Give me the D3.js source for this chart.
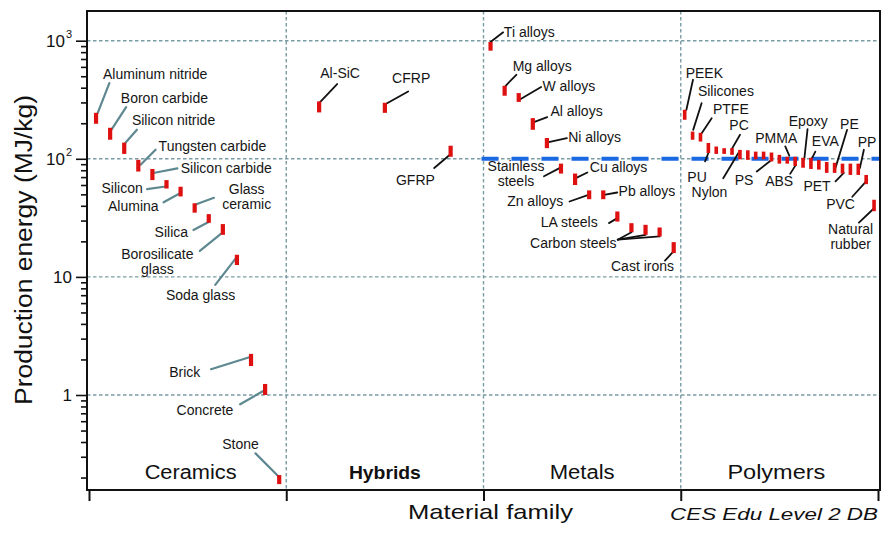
<!DOCTYPE html>
<html>
<head>
<meta charset="utf-8">
<script src="https://cdn.jsdelivr.net/npm/d3@7/dist/d3.min.js"></script>
<style>
  html, body { margin: 0; padding: 0; background: #fff; }
  svg { display: block; font-family: "Liberation Sans", Arial, Helvetica, sans-serif; }
</style>
</head>
<body>
<svg id="chart" width="886" height="536"></svg>
<script>
// Production energy of engineering materials, grouped by family.
// Each material is a range [low, high] in MJ/kg.
const families = ["Ceramics", "Hybrids", "Metals", "Polymers"];

const ceramicNames = ["Aluminum nitride", "Boron carbide", "Silicon nitride", "Tungsten carbide",
  "Silicon carbide", "Silicon", "Alumina", "Glass ceramic", "Silica", "Borosilicate glass",
  "Soda glass", "Brick", "Concrete", "Stone"];
const ceramicLow  = [198, 145, 110, 78, 66, 56, 48, 35, 28.7, 22.7, 12.6, 1.76, 1.0, 0.176];
const ceramicHigh = [245, 183, 137, 98, 82, 66, 58, 42, 34, 28, 15.4, 2.23, 1.24, 0.21];

const hybridNames = ["Al-SiC", "CFRP", "GFRP"];
const hybridLow  = [247, 245, 104];
const hybridHigh = [306, 298, 129];

const metalNames = ["Ti alloys", "Mg alloys", "W alloys", "Al alloys", "Ni alloys", "Stainless steels",
  "Cu alloys", "Zn alloys", "Pb alloys", "LA steels", "Low carbon steel", "Medium carbon steel",
  "High carbon steel", "Cast irons"];
const metalLow  = [823, 342, 303, 176, 123, 75, 60, 45.5, 45.5, 29.4, 23.9, 22.7, 22, 15.9];
const metalHigh = [975, 415, 360, 221, 150, 91, 75, 54, 54, 35.8, 28.5, 27.6, 26.2, 19.7];

// unnamed entries are polymers shown without a label
const polymerNames = ["PEEK", "Silicones", "PTFE", "PU", "", "", "PC", "Nylon", "", "", "", "PS", "",
  "PMMA", "ABS", "Epoxy", "EVA", "", "", "PE", "PET", "", "PP", "PVC", "Natural rubber"];
const polymerLow  = [214, 145, 140, 112, 110, 110, 108, 99, 98, 99, 99, 95, 91, 91, 87, 84, 82, 81, 76, 76, 75, 73, 73, 61, 36];
const polymerHigh = [260, 170, 166, 136, 127, 123, 123, 119, 118, 115, 115, 113, 108, 104, 104, 102, 102, 98, 94, 92.5, 91, 91, 91, 73, 45];

const yTickValues = [1, 10, 100, 1000];
const yTickBase = ["1", "10", "10", "10"];
const yTickExp  = ["", "", "2", "3"];
const referenceLevel = 100;   // MJ/kg, dashed blue reference line across metals and polymers

const familyData = {
  Ceramics: { names: ceramicNames, low: ceramicLow, high: ceramicHigh },
  Hybrids:  { names: hybridNames,  low: hybridLow,  high: hybridHigh },
  Metals:   { names: metalNames,   low: metalLow,   high: metalHigh },
  Polymers: { names: polymerNames, low: polymerLow, high: polymerHigh }
};

// Label placement: text offset and leader-line offsets (px) from the bar centre.
const labelLayout = {
  "Aluminum nitride": { lines: ["Aluminum nitride"], anchor: "start", tx: 7, ty: [-39.5], from: [13.3, -35.2], to: [1.6, -5.2] },
  "Boron carbide":    { lines: ["Boron carbide"], anchor: "start", tx: 10.7, ty: [-31], from: [16, -26.7], to: [1.7, -4.7] },
  "Silicon nitride":  { lines: ["Silicon nitride"], anchor: "start", tx: 7.7, ty: [-23.5], from: [12.7, -18.5], to: [1, -5.2] },
  "Tungsten carbide": { lines: ["Tungsten carbide"], anchor: "start", tx: 20.3, ty: [-14.3], from: [17.3, -16], to: [2.3, -1] },
  "Silicon carbide":  { lines: ["Silicon carbide"], anchor: "start", tx: 28.3, ty: [-1.5], from: [25, -6.2], to: [2.3, -1.8] },
  "Silicon":          { lines: ["Silicon"], anchor: "end", tx: -23.7, ty: [8.5], from: [-19.4, 4.8], to: [-1, 2.2] },
  "Alumina":          { lines: ["Alumina"], anchor: "end", tx: -22, ty: [19.7], from: [-17, 10.7], to: [-1, 2] },
  "Glass ceramic":    { lines: ["Glass", "ceramic"], anchor: "middle", tx: 52, ty: [-13.5, 1.5], from: [19.3, -10.2], to: [1, -3.5] },
  "Silica":           { lines: ["Silica"], anchor: "end", tx: -20.7, ty: [18.2], from: [-15.3, 11.5], to: [0.3, 3.2] },
  "Borosilicate glass": { lines: ["Borosilicate", "glass"], anchor: "middle", tx: -65.5, ty: [29.5, 44.5], from: [-23, 21.5], to: [-2, 4.5] },
  "Soda glass":       { lines: ["Soda glass"], anchor: "middle", tx: -36.4, ty: [40], from: [-21.7, 25], to: [-1, -1.7] },
  "Brick":            { lines: ["Brick"], anchor: "end", tx: -50.7, ty: [16.7], from: [-40, 9.3], to: [-1.7, -2.7] },
  "Concrete":         { lines: ["Concrete"], anchor: "end", tx: -31.7, ty: [25.5], from: [-25, 14.8], to: [-1, 1] },
  "Stone":            { lines: ["Stone"], anchor: "middle", tx: -38.7, ty: [-30.2], from: [-23.7, -26.2], to: [-0.4, -2.8] },

  "Al-SiC": { lines: ["Al-SiC"], anchor: "middle", tx: 21, ty: [-28.9], from: [18, -22.9], to: [0, -3.9] },
  "CFRP":   { lines: ["CFRP"], anchor: "middle", tx: 26.3, ty: [-25], from: [23.3, -16.3], to: [1.3, -4] },
  "GFRP":   { lines: ["GFRP"], anchor: "middle", tx: -35.2, ty: [33.5], from: [-16.4, 16.8], to: [-0.7, 3.5] },

  "Ti alloys":  { lines: ["Ti alloys"], anchor: "start", tx: 13.3, ty: [-9.7], from: [12.6, -14], to: [0, -4.4] },
  "Mg alloys":  { lines: ["Mg alloys"], anchor: "start", tx: 8, ty: [-20], from: [11.7, -16], to: [1, -5] },
  "W alloys":   { lines: ["W alloys"], anchor: "start", tx: 23.7, ty: [-6.8], from: [22.4, -10.5], to: [0.7, 2.2] },
  "Al alloys":  { lines: ["Al alloys"], anchor: "start", tx: 17.7, ty: [-8.2], from: [14.4, -6.9], to: [0.4, -1.5] },
  "Ni alloys":  { lines: ["Ni alloys"], anchor: "start", tx: 21.3, ty: [-0.8], from: [20, -5], to: [0.6, -0.6] },
  "Stainless steels": { lines: ["Stainless", "steels"], anchor: "middle", tx: -45, ty: [2, 17], from: [-17, 7.7], to: [-1, -0.7] },
  "Cu alloys":  { lines: ["Cu alloys"], anchor: "start", tx: 14.7, ty: [-7], from: [12.3, -6.8], to: [0.7, -1.2] },
  "Zn alloys":  { lines: ["Zn alloys"], anchor: "end", tx: -26, ty: [11.5], from: [-19.7, 6.7], to: [-0.7, 0] },
  "Pb alloys":  { lines: ["Pb alloys"], anchor: "start", tx: 15.3, ty: [1.5], from: [14, -2.3], to: [0.6, 0] },
  "LA steels":  { lines: ["LA steels"], anchor: "end", tx: -19.7, ty: [10.8], from: [-8.4, 6.6], to: [0, 1.6] },
  "Low carbon steel": { lines: ["Carbon steels"], anchor: "end", tx: -15, ty: [20.8], from: [-13.7, 12],
                        to: [0, 4.6], joins: ["Medium carbon steel", "High carbon steel"] },
  "Cast irons": { lines: ["Cast irons"], anchor: "middle", tx: -31.2, ty: [23.8], from: [-8.7, 13], to: [0, 3.6] },

  "PEEK":      { lines: ["PEEK"], anchor: "start", tx: 1, ty: [-37], from: [8.3, -35], to: [1.7, -5] },
  "Silicones": { lines: ["Silicones"], anchor: "start", tx: 5.3, ty: [-39.3], from: [9, -32.5], to: [0.6, -5.8] },
  "PTFE":      { lines: ["PTFE"], anchor: "start", tx: 12.5, ty: [-23.3], from: [11.2, -19], to: [1.2, -4] },
  "PU":        { lines: ["PU"], anchor: "middle", tx: -11.3, ty: [34.2], from: [-3.3, 13.4], to: [0, 5] },
  "PC":        { lines: ["PC"], anchor: "middle", tx: 7, ty: [-21.7], from: [8, -16.7], to: [-0.3, -2.4] },
  "Nylon":     { lines: ["Nylon"], anchor: "middle", tx: -30.5, ty: [42.8], from: [-16.7, 23.6], to: [-1.7, -1.4] },
  "PS":        { lines: ["PS"], anchor: "middle", tx: -27.4, ty: [27.8], from: [-14.7, 14.5], to: [0.3, 2.8] },
  "PMMA":      { lines: ["PMMA"], anchor: "middle", tx: -11, ty: [-17], from: [-2, -13.8], to: [2, -4.5] },
  "ABS":       { lines: ["ABS"], anchor: "middle", tx: -16, ty: [25], from: [-5, 12.5], to: [0.7, 3.5] },
  "Epoxy":     { lines: ["Epoxy"], anchor: "middle", tx: 5.2, ty: [-37], from: [4.5, -33.7], to: [1.2, -3] },
  "EVA":       { lines: ["EVA"], anchor: "middle", tx: 14.4, ty: [-17.5], from: [4.4, -11.8], to: [1.1, -5.2] },
  "PE":        { lines: ["PE"], anchor: "middle", tx: 14.8, ty: [-39], from: [12.5, -38], to: [0.8, 0.3] },
  "PET":       { lines: ["PET"], anchor: "middle", tx: -25.5, ty: [22.5], from: [-7, 12.7], to: [1.3, 4.3] },
  "PP":        { lines: ["PP"], anchor: "middle", tx: 8.8, ty: [-22.5], from: [5.6, -19.5], to: [1.6, -1.2] },
  "PVC":       { lines: ["PVC"], anchor: "middle", tx: -25.6, ty: [29.5], from: [-13.9, 17.2], to: [1.1, 0.5] },
  "Natural rubber": { lines: ["Natural", "rubber"], anchor: "middle", tx: -23.4, ty: [29, 44], from: [-15.1, 17.2], to: [0, 2.8] }
};

// ---- layout ----
const frame = { left: 87, right: 880, top: 11, bottom: 490 };
const svg = d3.select("#chart");

const y = d3.scaleLog().domain([0.1569, 1784]).range([frame.bottom, frame.top]);
const xFamily = d3.scaleBand().domain(families).range([89, 878]).padding(0);

// flatten rows with their x positions
const rows = [];
families.forEach(f => {
  const d = familyData[f];
  const idx = d.names.map((_, i) => i);
  const xp = d3.scalePoint().domain(idx)
    .range([xFamily(f), xFamily(f) + xFamily.bandwidth()]).padding(0.5);
  idx.forEach(i => rows.push({
    family: f, name: d.names[i], low: d.low[i], high: d.high[i], x: xp(i)
  }));
});
const byName = new Map(rows.filter(r => r.name).map(r => [r.name, r]));

const gridColor = "#7a9ca4";

// horizontal grid at decades
svg.append("g").selectAll("line").data(yTickValues).join("line")
  .attr("x1", frame.left).attr("x2", frame.right)
  .attr("y1", d => y(d)).attr("y2", d => y(d))
  .attr("stroke", gridColor).attr("stroke-width", 1.4).attr("stroke-dasharray", "3.5,2.5");

// vertical grid at family boundaries
svg.append("g").selectAll("line").data(families.slice(1)).join("line")
  .attr("x1", d => xFamily(d)).attr("x2", d => xFamily(d))
  .attr("y1", frame.top).attr("y2", frame.bottom)
  .attr("stroke", gridColor).attr("stroke-width", 1.4).attr("stroke-dasharray", "3.5,2.5");

// reference line at 100 MJ/kg
svg.append("line")
  .attr("x1", xFamily("Metals") - 2).attr("x2", frame.right)
  .attr("y1", y(referenceLevel)).attr("y2", y(referenceLevel))
  .attr("stroke", "#1a68e2").attr("stroke-width", 4).attr("stroke-dasharray", "17,13");

// leader lines
const leaders = svg.append("g");
const labels = svg.append("g").attr("font-size", 14).attr("fill", "#151515");
rows.forEach(r => {
  const L = labelLayout[r.name];
  if (!L) return;
  const cx = r.x, cy = y(Math.sqrt(r.low * r.high));
  const color = r.family === "Ceramics" ? "#5e8890" : "#111";
  const width = r.family === "Ceramics" ? 2.2 : 1.8;
  const sx = cx + L.from[0], sy = cy + L.from[1];
  leaders.append("line")
    .attr("x1", sx).attr("y1", sy)
    .attr("x2", cx + L.to[0]).attr("y2", cy + L.to[1])
    .attr("stroke", color).attr("stroke-width", width).attr("stroke-linecap", "round");
  (L.joins || []).forEach(n => {
    const o = byName.get(n);
    leaders.append("line")
      .attr("x1", sx).attr("y1", sy)
      .attr("x2", o.x).attr("y2", y(o.low))
      .attr("stroke", color).attr("stroke-width", width).attr("stroke-linecap", "round");
  });
  L.lines.forEach((t, i) => {
    labels.append("text")
      .attr("x", cx + L.tx).attr("y", cy + L.ty[i])
      .attr("text-anchor", L.anchor)
      .text(t);
  });
});

// range bars
svg.append("g").selectAll("rect").data(rows).join("rect")
  .attr("x", d => d.x - (d.family === "Polymers" ? 1.8 : 2.1))
  .attr("width", d => d.family === "Polymers" ? 3.6 : 4.2)
  .attr("y", d => y(d.high))
  .attr("height", d => y(d.low) - y(d.high))
  .attr("fill", "#de1010");

// family names inside the plot
const famLen = { Ceramics: 92, Hybrids: 72, Metals: 65, Polymers: 98 };
svg.append("g").selectAll("text").data(families).join("text")
  .attr("x", d => xFamily(d) + xFamily.bandwidth() / 2 + (d === "Ceramics" ? 3 : d === "Polymers" ? -3 : 0))
  .attr("y", 479)
  .attr("text-anchor", "middle")
  .attr("font-size", d => d === "Hybrids" ? 19 : 20)
  .attr("font-weight", d => d === "Hybrids" ? "bold" : "normal")
  .attr("textLength", d => famLen[d]).attr("lengthAdjust", "spacingAndGlyphs")
  .attr("fill", "#111")
  .text(d => d);

// y axis: major ticks with labels, minor ticks
const yMajor = svg.append("g").attr("transform", `translate(${frame.left},0)`)
  .call(d3.axisLeft(y).tickValues(yTickValues).tickSize(11).tickPadding(4).tickFormat(""));
const yMinor = svg.append("g").attr("transform", `translate(${frame.left},0)`)
  .call(d3.axisLeft(y).tickValues(y.ticks().filter(v => !yTickValues.includes(v))).tickSize(6).tickFormat(""));
[yMajor, yMinor].forEach(g => {
  g.select(".domain").remove();
  g.selectAll(".tick line").attr("stroke", "#111").attr("stroke-width", 1.6);
});
yMajor.selectAll(".tick text").each(function(d) {
  const i = yTickValues.indexOf(d);
  const t = d3.select(this).attr("font-size", 17).attr("fill", "#111")
    .attr("font-family", "'Liberation Sans', Arial, sans-serif").attr("x", -15);
  t.append("tspan").text(yTickBase[i]);
  if (yTickExp[i]) t.append("tspan").attr("font-size", 11).attr("dy", "-0.75em").attr("dx", 1).text(yTickExp[i]);
});

// x axis ticks at family boundaries
const xBounds = families.map(f => xFamily(f)).concat([xFamily.range()[1]]);
svg.append("g").attr("transform", `translate(0,${frame.bottom})`)
  .call(d3.axisBottom(d3.scaleLinear().domain([0, 1000]).range([0, 1000])).tickValues(xBounds).tickSize(11).tickFormat(""))
  .call(g => g.select(".domain").remove())
  .call(g => g.selectAll(".tick line").attr("stroke", "#111").attr("stroke-width", 2));

// plot frame
svg.append("rect")
  .attr("x", frame.left).attr("y", frame.top)
  .attr("width", frame.right - frame.left).attr("height", frame.bottom - frame.top)
  .attr("fill", "none").attr("stroke", "#111").attr("stroke-width", 2);

// axis titles and source note
svg.append("text")
  .attr("transform", "translate(31.5,250) rotate(-90)")
  .attr("text-anchor", "middle").attr("font-size", 23).attr("fill", "#111")
  .attr("textLength", 310).attr("lengthAdjust", "spacingAndGlyphs")
  .text("Production energy (MJ/kg)");
svg.append("text")
  .attr("x", 490.5).attr("y", 519).attr("text-anchor", "middle")
  .attr("font-size", 21).attr("fill", "#111")
  .attr("textLength", 165).attr("lengthAdjust", "spacingAndGlyphs")
  .text("Material family");
svg.append("text")
  .attr("x", 878).attr("y", 520).attr("text-anchor", "end")
  .attr("font-size", 17).attr("font-style", "italic").attr("fill", "#111")
  .attr("textLength", 208).attr("lengthAdjust", "spacingAndGlyphs")
  .text("CES Edu Level 2 DB");
</script>
</body>
</html>
